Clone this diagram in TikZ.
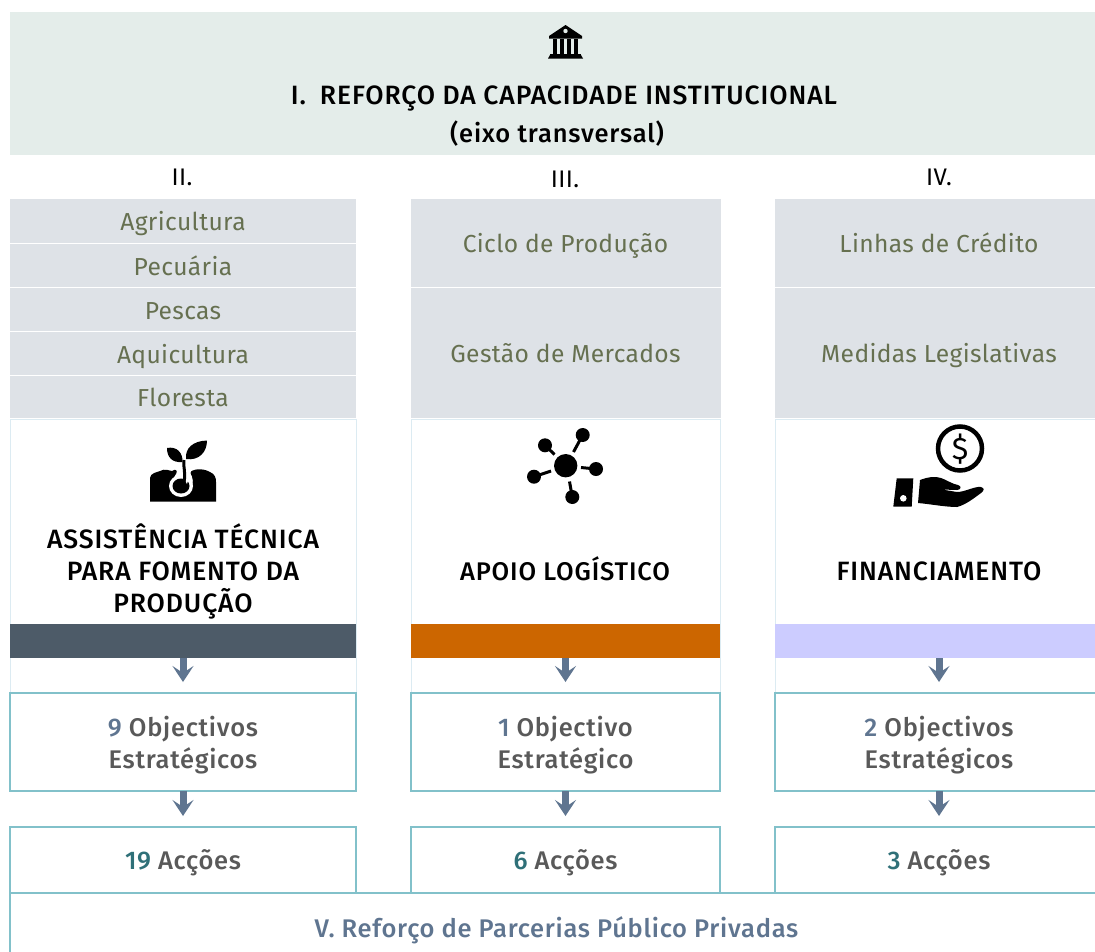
\documentclass[tikz,border=0pt]{standalone}
\usepackage{fontspec}
\setmainfont{Fira Sans}[LetterSpace=1.5]
\newfontfamily\medfont{Fira Sans Medium}[LetterSpace=3.4]
\newfontfamily\numfont{Fira Sans Medium}[LetterSpace=2.8]
\usetikzlibrary{arrows.meta,positioning}
\definecolor{bandfill}{HTML}{E4EDEA}
\definecolor{cellfill}{HTML}{DEE2E7}
\definecolor{olive}{HTML}{667050}
\definecolor{slate}{HTML}{4D5B68}
\definecolor{orangeband}{HTML}{CC6600}
\definecolor{lavender}{HTML}{CCCCFF}
\definecolor{tealline}{HTML}{82C1CA}
\definecolor{paleline}{HTML}{DCEBF2}
\definecolor{arrowblue}{HTML}{5F7590}
\definecolor{textgrey}{HTML}{595959}
\definecolor{tealnum}{HTML}{2F7078}
\tikzset{
  x=1pt,y=-1pt,
  outer sep=0pt,
  wh/.style n args={2}{minimum width=#1pt,minimum height=#2pt},
  cell/.style={fill=cellfill,draw=white,line width=1pt,text=olive,font=\fontsize{24.6}{28}\selectfont,inner sep=0pt,align=center,anchor=north west,text height=20pt,text depth=0.600pt},
  colbody/.style={draw=paleline,line width=1pt,fill=white,inner sep=0pt,anchor=north west},
  colourband/.style={inner sep=0pt,anchor=north west},
  goalbox/.style={draw=tealline,line width=1.6pt,fill=white,inner sep=0pt,anchor=north west,text=textgrey,align=center,font=\numfont\fontsize{25.5}{32}\selectfont,text height=20pt,text depth=0.600pt},
  twoline/.style={text height=53pt,text depth=0.400pt},
  headtext/.style={inner sep=0pt,text=black,align=center,font=\medfont\fontsize{26.5}{32}\selectfont},
  smallhead/.style={inner sep=0pt,text=black,align=center,font=\medfont\fontsize{25.5}{32}\selectfont},
  numeral/.style={inner sep=0pt,text=black,font=\fontsize{24}{28}\selectfont},
  flow/.style={draw=arrowblue,line width=7pt,-{Stealth[length=16pt,width=21pt,inset=7pt]},shorten >=11pt},
  icon/.style={fill=black,draw=none},
}
\begin{document}
\begin{tikzpicture}
\useasboundingbox (0,0) rectangle (1095,951);
\clip (0,0) rectangle (1095,951);
% top band
\node[fill=bandfill,inner sep=0pt,anchor=north west,wh={1093}{143}] (top) at (9.500,12) {};
\node[headtext,anchor=base] (toptitle) at (564,104.500) {I.\hspace{14pt}REFORÇO DA CAPACIDADE INSTITUCIONAL};
\node[smallhead,anchor=base] (topsub) at (557,142) {(eixo transversal)};
% numerals
\node[numeral] (n2) at (182,177) {II.};
\node[numeral] (n3) at (565,179) {III.};
\node[numeral] (n4) at (939,177) {IV.};
% column bodies
\node[colbody,wh={346}{274}] (b1) at (10,419) {};
\node[colbody,wh={309}{274}] (b2) at (411,419) {};
\node[colbody,wh={328}{274}] (b3) at (775,419) {};
% cells
\node[cell,wh={347}{45}] (c1a) at (9.500,198.500) {Agricultura};
\node[cell,wh={347}{44}] (c1b) at (9.500,243.500) {Pecuária};
\node[cell,wh={347}{44}] (c1c) at (9.500,287.500) {Pescas};
\node[cell,wh={347}{44}] (c1d) at (9.500,331.500) {Aquicultura};
\node[cell,wh={347}{43}] (c1e) at (9.500,375.500) {Floresta};
\node[cell,wh={311}{89}] (c2a) at (410,198.500) {Ciclo de Produção};
\node[cell,wh={311}{131}] (c2b) at (410,287.500) {Gestão de Mercados};
\node[cell,wh={330}{89}] (c3a) at (774,198.500) {Linhas de Crédito};
\node[cell,wh={330}{131}] (c3b) at (774,287.500) {Medidas Legislativas};
% column titles
\node[headtext] (t1) at (183,571.500) {ASSISTÊNCIA TÉCNICA\\PARA FOMENTO DA\\PRODUÇÃO};
\node[smallhead,anchor=base] (t2) at (565,580) {APOIO LOGÍSTICO};
\node[headtext,anchor=base] (t3) at (939,580) {FINANCIAMENTO};
% colour bands
\node[colourband,fill=slate,wh={346}{34}] (s1) at (10,624) {};
\node[colourband,fill=orangeband,wh={309}{34}] (s2) at (411,624) {};
\node[colourband,fill=lavender,wh={328}{34}] (s3) at (775,624) {};
% goal boxes
\node[goalbox,twoline,wh={346}{98}] (g1) at (10,693) {\textcolor{arrowblue}{9} Objectivos\\Estratégicos};
\node[goalbox,twoline,wh={309}{98}] (g2) at (411,693) {\textcolor{arrowblue}{1} Objectivo\\Estratégico};
\node[goalbox,twoline,wh={328}{98}] (g3) at (775,693) {\textcolor{arrowblue}{2} Objectivos\\Estratégicos};
\node[goalbox,wh={346}{66}] (a1) at (10,827) {\textcolor{tealnum}{19} Acções};
\node[goalbox,wh={309}{66}] (a2) at (411,827) {\textcolor{tealnum}{6} Acções};
\node[goalbox,wh={328}{66}] (a3) at (775,827) {\textcolor{tealnum}{3} Acções};
\node[goalbox,wh={1093}{70},text=arrowblue] (v) at (10,893) {V. Reforço de Parcerias Público Privadas};
% arrows
\foreach \p/\q in {s1/g1,g1/a1,s2/g2,g2/a2,s3/g3,g3/a3}{\draw[flow] (\p) -- (\q);}
% bank icon
\fill[icon] (549,36) -- (565.500,25) -- (582,36) -- (582,38.500) -- (549,38.500) -- cycle;
\fill[bandfill] (565.500,31) circle (2.200);
\foreach \cx in {553,560,567,574}{\fill[icon] (\cx,39) rectangle ++(3.500,15);}
\fill[icon] (550,53.500) rectangle (581,55.500);
\fill[icon] (548,58.500) -- (550,55) -- (581,55) -- (583,58.500) -- cycle;
% seedling icon
\fill[icon] (150,501.500) -- (150,478) .. controls (150,473) and (158,472) .. (160,471) .. controls (165,468) and (170,471) .. (172,471)
  .. controls (176,468) and (178,471) .. (176,474) .. controls (172,478) and (172,490) .. (181,493)
  .. controls (190,494) and (197,484) .. (190,472) .. controls (197,467) and (207,470) .. (210,472) .. controls (215,474) and (216,478) .. (216,482) -- (216,501.500) -- cycle;
\fill[white] (181,486) ellipse (12 and 11);
\fill[icon] (181,486) ellipse (8.500 and 7.500);
\fill[white] (183,476) -- (192,468) -- (187,484) -- cycle;
\draw[black,line width=3pt] (184,460) .. controls (183,468) and (186,472) .. (184,482);
\fill[icon] (167,448) .. controls (177,446) and (183,453) .. (182.500,462) .. controls (172,463) and (167,457) .. (167,448) -- cycle;
\fill[icon] (207,440.500) .. controls (193,441) and (185,448) .. (186,459) .. controls (199,461) and (207,452) .. (207,440.500) -- cycle;
% network icon
\fill[icon] (565.700,465.700) circle (11.700);
\foreach \sx/\sy in {582.700/435,545/445.300,596/469,534/476.700,572.300/497}{
  \fill[icon] (\sx,\sy) circle (7);
}
\draw[black,line width=3pt] (573.500,452) -- (582.700,435);
\draw[black,line width=3pt] (554.500,454.500) -- (545,445.300);
\draw[black,line width=3pt] (581,467.500) -- (596,469);
\draw[black,line width=3pt] (551,471) -- (534,476.700);
\draw[black,line width=3pt] (569.500,481.500) -- (572.300,497);
% money icon
\draw[black,line width=4.500pt] (960,448.500) circle (22);
\node[inner sep=0pt,font=\fontsize{31}{31}\selectfont] (dollar) at (960,449) {\$};
\fill[icon] (896.700,478.300) -- (913.300,478.300) -- (911.700,506.700) -- (893.300,506.700) -- cycle;
\fill[white] (903.300,498.300) circle (3.300);
\fill[icon] (920,480) .. controls (928,477) and (935,476) .. (941,478) .. controls (947,480) and (952,484) .. (958,485)
  .. controls (962,486) and (961,490) .. (957,490) -- (942,489.500) -- (957,492) .. controls (965,492) and (975,486) .. (981,487)
  .. controls (985,488) and (984,491) .. (981,493) .. controls (973,499) and (965,505) .. (957,507)
  .. controls (945,507) and (930,504) .. (918,503) -- cycle;
\end{tikzpicture}
\end{document}
